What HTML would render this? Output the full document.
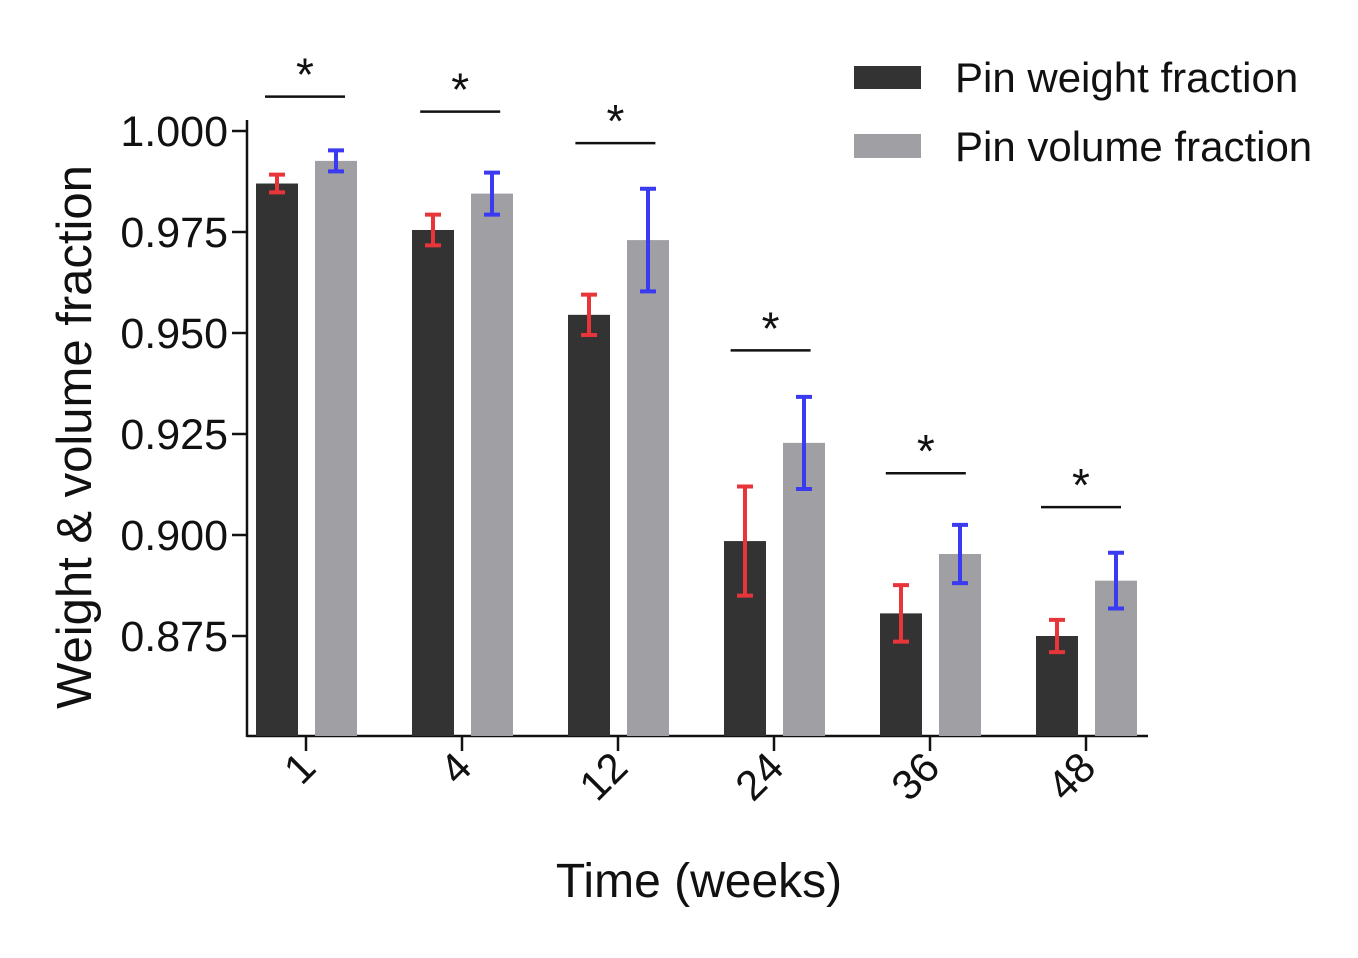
<!DOCTYPE html>
<html><head><meta charset="utf-8"><style>
body{margin:0;background:#fff}
svg text{font-family:"Liberation Sans",Arial,sans-serif;fill:#111}
</style></head><body>
<svg width="1358" height="953">
<g id="plot"></g>
</svg>
<script>
const categories=["1","4","12","24","36","48"];
const weightVals=[0.987,0.9755,0.9545,0.8985,0.8806,0.875];
const weightErr=[0.0022,0.0038,0.005,0.0135,0.007,0.004];
const volumeVals=[0.9926,0.9845,0.973,0.9228,0.8953,0.8887];
const volumeErr=[0.0026,0.0052,0.0127,0.0114,0.0072,0.0069];
const sigLineY=[1.0085,1.0048,0.997,0.9457,0.9153,0.9069];
const yTicks=[0.875,0.9,0.925,0.95,0.975,1.0];
const yTickLabels=["0.875","0.900","0.925","0.950","0.975","1.000"];

const NS="http://www.w3.org/2000/svg";
const g=document.getElementById('plot');
const y=v=>636+(0.875-v)*4040;
const x=i=>306+i*156;
function el(t,a,txt){const e=document.createElementNS(NS,t);for(const k in a)e.setAttribute(k,a[k]);if(txt!=null)e.textContent=txt;g.appendChild(e);return e;}

let e=el('line',{x1:247,y1:736,x2:1148,y2:736,stroke:'#111','stroke-width':2.5});


e=el('line',{x1:247,y1:120,x2:247,y2:737,stroke:'#111','stroke-width':2.5});



yTicks.forEach((v,i)=>{
 e=el('line',{x1:232,y1:y(v),x2:247,y2:y(v),stroke:'#111','stroke-width':2.5});
 
 
 e=el('text',{x:228,y:y(v)+15,'text-anchor':'end','font-size':43},yTickLabels[i]);
 
 
});

categories.forEach((c,i)=>{
 const cx=x(i);
 e=el('line',{x1:cx,y1:736,x2:cx,y2:751,stroke:'#111','stroke-width':2.5});
 
 
 e=el('text',{x:0,y:0,'text-anchor':'end','font-size':42,transform:`translate(${cx+12},${770}) rotate(-45)`},c);
 
 
 const dx=cx-29,gx=cx+30;
 e=el('rect',{x:dx-21,y:y(weightVals[i]),width:42,height:736-y(weightVals[i]),fill:'#333333'});
 
 
 e=el('rect',{x:gx-21,y:y(volumeVals[i]),width:42,height:736-y(volumeVals[i]),fill:'#a0a0a4'});
 
 
 [[dx,weightVals[i],weightErr[i],'#e8353a'],[gx,volumeVals[i],volumeErr[i],'#3a3af0']].forEach(([bx,v,er,col])=>{
  const t=y(v+er),b=y(v-er);
  e=el('path',{d:`M${bx},${t}V${b}M${bx-8},${t}H${bx+8}M${bx-8},${b}H${bx+8}`,stroke:col,'stroke-width':4,fill:'none'});
  
  
 });
 const sy=y(sigLineY[i]);
 const sx=cx-41-i*0.8;
 e=el('line',{x1:sx,y1:sy,x2:sx+80,y2:sy,stroke:'#111','stroke-width':2.5});
 
 
 e=el('text',{x:sx+40,y:sy-6,'text-anchor':'middle','font-size':46},'*');
 
 
});

e=el('text',{x:699,y:897,'text-anchor':'middle','font-size':48},'Time (weeks)');


e=el('text',{x:0,y:0,'text-anchor':'middle','font-size':49,transform:'translate(91,437) rotate(-90)'},'Weight & volume fraction');



e=el('rect',{x:854,y:66,width:67,height:23,fill:'#333333'});


e=el('text',{x:955,y:92,'font-size':42},'Pin weight fraction');


e=el('rect',{x:854,y:134,width:67,height:24,fill:'#a0a0a4'});


e=el('text',{x:955,y:161,'font-size':42},'Pin volume fraction');


</script>
</body></html>
